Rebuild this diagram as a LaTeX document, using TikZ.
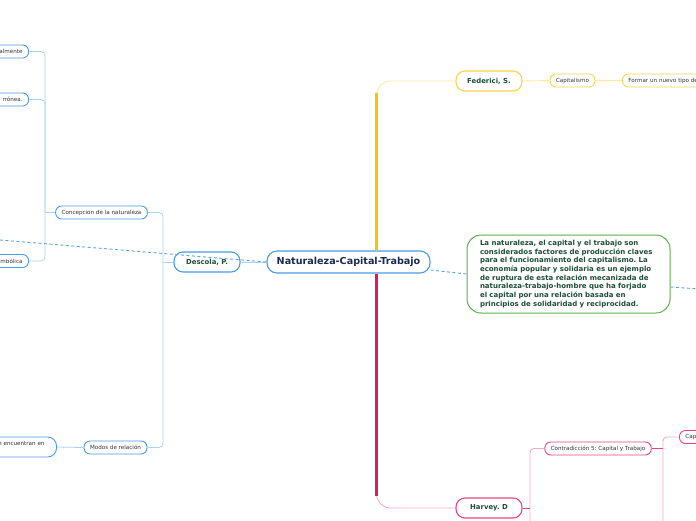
\documentclass[tikz,border=0pt]{standalone}
\usepackage{fontspec}
\setmainfont{DejaVu Sans}
\usetikzlibrary{calc}

\definecolor{mmblue}{HTML}{4A9BE8}
\definecolor{mmbluelight}{HTML}{A9D3F5}
\definecolor{mmyellow}{HTML}{F8D447}
\definecolor{mmyellowdeep}{HTML}{F5C400}
\definecolor{mmyellowlight}{HTML}{FBE8A6}
\definecolor{mmpink}{HTML}{E8457A}
\definecolor{mmpinkdeep}{HTML}{E2195B}
\definecolor{mmpinklight}{HTML}{F6AAC6}
\definecolor{mmgreen}{HTML}{5DAE4A}
\definecolor{dashblue}{HTML}{5BA3E6}
\definecolor{rootink}{HTML}{1B2A4E}
\definecolor{topicink}{HTML}{1E4D3A}
\definecolor{subink}{HTML}{333333}

\begin{document}
\frenchspacing
\begin{tikzpicture}[x=1pt, y=-1pt,
  root/.style={draw=mmblue, line width=1.1pt, fill=white, rounded corners=10pt,
    minimum width=163pt, minimum height=22pt, inner sep=0pt, text=rootink,
    font=\bfseries\fontsize{9.6}{11}\selectfont},
  topic/.style={draw=#1, line width=1.1pt, fill=white, rounded corners=9pt,
    minimum width=66pt, minimum height=20pt, inner sep=0pt, text=topicink,
    font=\bfseries\fontsize{6.9}{8}\selectfont},
  sub/.style={draw=#1, line width=0.9pt, fill=white, rounded corners=6pt,
    minimum height=13pt, inner xsep=6pt, inner ysep=0pt, text=subink,
    font=\fontsize{5.6}{6.5}\selectfont},
  cutleft/.style={anchor=east, text width=60pt, align=right},
  cutright/.style={anchor=west, text width=90pt, align=left},
  note/.style={draw=mmgreen, line width=1pt, fill=white, rounded corners=14pt,
    text width=177pt, align=left, inner xsep=13pt, inner ysep=4pt,
    minimum height=78pt, text=topicink,
    font=\bfseries\fontsize{7}{8.7}\selectfont},
  bline/.style={mmbluelight, line width=0.8pt},
  yline/.style={mmyellowlight, line width=0.9pt},
  ytrunk/.style={mmyellowdeep, line width=2.4pt},
  pline/.style={mmpinklight, line width=0.9pt},
  pdark/.style={mmpink, line width=0.9pt},
  ptrunk/.style={mmpinkdeep, line width=2.4pt},
  dashlink/.style={dashblue, line width=0.9pt, dash pattern=on 3pt off 2.5pt}]
  \useasboundingbox (0,0) rectangle (696,520);
  \clip (0,0) rectangle (696,520);

  \node[root] (central) at (348.5,262) {Naturaleza-Capital-Trabajo};
  \node[topic=mmblue] (descola) at (207,262) {Descola, P.};
  \node[topic=mmyellow] (federici) at (489,81) {Federici, S.};
  \node[topic=mmpink] (harvey) at (489,508) {Harvey. D};
  \node[note] (resumen) at (568.5,274) {La naturaleza, el capital y el trabajo son\\
    considerados factores de producción claves\\
    para el funcionamiento del capitalismo. La\\
    economía popular y solidaria es un ejemplo\\
    de ruptura de esta relación mecanizada de\\
    naturaleza-trabajo-hombre que ha forjado\\
    el capital por una relación basada en\\
    principios de solidaridad y reciprocidad.};

  \node[sub=mmblue, minimum width=91pt] (concep) at (101.5,212.5) {Concepcion de la naturaleza};
  \node[sub=mmblue, minimum width=63pt] (modos) at (115.5,447.5) {Modos de relación};
  \node[sub=mmblue, cutleft] (almente) at (29,51.5) {almente};
  \node[sub=mmblue, cutleft] (rronea) at (29,99.5) {rrónea.};
  \node[sub=mmblue, cutleft] (imbolica) at (29,261) {imbólica};
  \node[sub=mmblue, cutleft, inner xsep=12pt, rounded corners=9pt, minimum height=20pt,
    text height=4pt, text depth=8pt] (encuentran) at (57,447) {e encuentran en};

  \node[sub=mmyellow, minimum width=45pt] (capit) at (572.5,80.5) {Capitalismo};
  \node[sub=mmyellow, cutright] (formar) at (622,80.5) {Formar un nuevo tipo de};
  \node[sub=mmpink, minimum width=106pt] (contra) at (598,448.5) {Contradicción 5: Capital y Trabajo};
  \node[sub=mmpink, cutright] (capn) at (679,437) {Cap};

  \coordinate (dbr) at (163,262);
  \coordinate (cbr) at (45,212.5);
  \draw[bline] (descola.east) -- (central.west);
  \draw[bline, rounded corners=4pt] (concep.east) -| (dbr) |- (modos.east);
  \draw[bline] (descola.west) -- (dbr);
  \draw[bline, rounded corners=4pt] (almente.east) -| (cbr) |- (imbolica.east);
  \draw[bline, rounded corners=4pt] (rronea.east) -| (cbr);
  \draw[bline] (concep.west) -- (cbr);
  \draw[bline] (encuentran.east) -- (modos.west);

  \coordinate (yroot) at ([xshift=28pt]central.north);
  \coordinate (ycorner) at (yroot |- federici.west);
  \draw[yline, rounded corners=14pt] (yroot) |- (federici.west);
  \draw[ytrunk] (yroot) -- ([yshift=-12pt]ycorner);
  \draw[yline] (federici.east) -- (capit.west);
  \draw[yline] (capit.east) -- (formar.west);

  \coordinate (proot) at ([xshift=28pt]central.south);
  \coordinate (pcorner) at (proot |- harvey.west);
  \draw[pline, rounded corners=14pt] (proot) |- (harvey.west);
  \draw[ptrunk] (proot) -- ([yshift=12pt]pcorner);

  \coordinate (hbr) at (530,508);
  \coordinate (hend) at (530,530);
  \coordinate (kbr) at (663,448.5);
  \coordinate (kend) at (663,530);
  \draw[pline, rounded corners=4pt] (contra.west) -| (hend);
  \draw[pdark] (harvey.east) -- (hbr);
  \draw[pline, rounded corners=4pt] (capn.west) -| (kend);
  \draw[pdark] (contra.east) -- (kbr);

  \coordinate (dleft) at (0,240);
  \coordinate (dright) at (700,289);
  \draw[dashlink] (dleft) -- (central.west);
  \draw[dashlink] ([yshift=-8pt]central.east) -- (resumen.west);
  \draw[dashlink] ([yshift=-13pt]resumen.east) -- (dright);
\end{tikzpicture}
\end{document}
